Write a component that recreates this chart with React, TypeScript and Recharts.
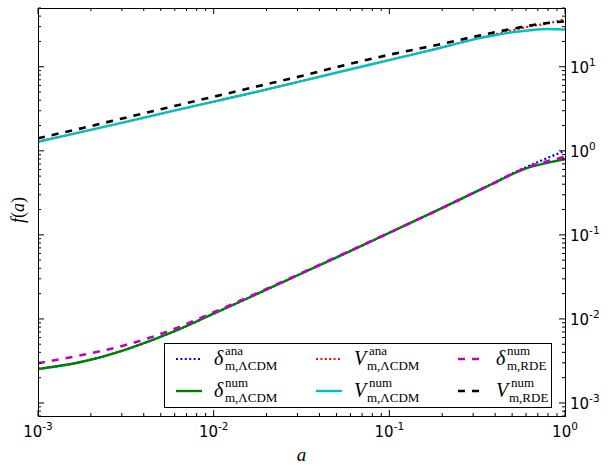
import React from 'react';
import { LineChart, Line, XAxis, YAxis } from 'recharts';

// scale factor a (log axis) and the six curves
const aValues = [0.001, 0.00178, 0.00316, 0.00562, 0.01, 0.0178, 0.0316, 0.0562, 0.1, 0.178, 0.316, 0.398, 0.501, 0.631, 0.794, 1.0];
const deltaAnaLCDM = [0.00254, 0.00309, 0.00432, 0.00676, 0.01156, 0.01995, 0.0347, 0.0603, 0.106, 0.186, 0.331, 0.422, 0.537, 0.668, 0.822, 1.0];
const deltaNumLCDM = [0.00254, 0.00309, 0.00432, 0.00676, 0.01156, 0.01995, 0.0347, 0.0603, 0.106, 0.186, 0.331, 0.417, 0.527, 0.638, 0.719, 0.794];
const vAnaLCDM = [1.28, 1.68, 2.21, 2.92, 3.85, 5.07, 6.76, 9.02, 12.0, 16.0, 21.6, 24.3, 27.2, 30.2, 32.7, 36.7];
const vNumLCDM = [1.28, 1.68, 2.21, 2.92, 3.85, 5.07, 6.76, 9.02, 12.0, 16.0, 21.6, 23.7, 25.7, 27.2, 28.1, 27.7];
const deltaNumRDE = [0.00297, 0.00372, 0.0049, 0.00724, 0.012, 0.0204, 0.0351, 0.061, 0.106, 0.186, 0.331, 0.417, 0.531, 0.653, 0.75, 0.851];
const vNumRDE = [1.41, 1.86, 2.48, 3.31, 4.4, 5.85, 7.76, 10.5, 13.9, 17.8, 23.2, 25.7, 28.3, 30.9, 33.1, 34.7];

const xMajorTicks = [0.001, 0.01, 0.1, 1];
const yMajorTicks = [0.001, 0.01, 0.1, 1, 10];
const xDomain = [0.001, 1];
const yDomain = [7e-4, 50];

const W = 610;
const H = 473;
const PLOT = { left: 38, top: 8, right: 565, bottom: 416 };
const AXIS_W = 30;
const AXIS_H = 30;

const data = aValues.map((a, i) => ({
  a,
  dAna: deltaAnaLCDM[i],
  dNum: deltaNumLCDM[i],
  vAna: vAnaLCDM[i],
  vNum: vNumLCDM[i],
  dRde: deltaNumRDE[i],
  vRde: vNumRDE[i],
}));

// majors plus 2..9 minors inside the domain
function logTicks(majors: number[], lo: number, hi: number) {
  const out: number[] = [];
  const first = majors[0] / 10;
  for (const d of [first, ...majors]) {
    for (let m = 1; m <= 9; m++) {
      const v = +(m * d).toPrecision(6);
      if (v >= lo * 0.9999 && v <= hi * 1.0001) out.push(v);
    }
  }
  return out;
}
const xTicks = logTicks(xMajorTicks, xDomain[0], xDomain[1]);
const yTicks = logTicks(yMajorTicks, yDomain[0], yDomain[1]);

const isMajor = (v: number) => {
  const l = Math.log10(v);
  return Math.abs(l - Math.round(l)) < 1e-6;
};

const tickFont = '"DejaVu Sans", sans-serif';
const mathFont = '"Liberation Serif", "DejaVu Serif", serif';

const XTick = (props: any) => {
  const { x, payload } = props;
  const v = payload.value;
  const major = isMajor(v);
  const len = major ? 6 : 3;
  return (
    <g>
      <line x1={x} x2={x} y1={PLOT.bottom} y2={PLOT.bottom - len} stroke="#000" strokeWidth={1} />
      <line x1={x} x2={x} y1={PLOT.top} y2={PLOT.top + len} stroke="#000" strokeWidth={1} />
      {major && (
        <text x={x} y={PLOT.bottom + 21} textAnchor="middle" fontFamily={tickFont} fontSize={15} fill="#000">
          10<tspan dy={-7} fontSize={10.5}>{String(Math.round(Math.log10(v)))}</tspan>
        </text>
      )}
    </g>
  );
};

const YTick = (props: any) => {
  const { y, payload } = props;
  const v = payload.value;
  const major = isMajor(v);
  const len = major ? 6 : 3;
  return (
    <g>
      <line x1={PLOT.left} x2={PLOT.left + len} y1={y} y2={y} stroke="#000" strokeWidth={1} />
      <line x1={PLOT.right} x2={PLOT.right - len} y1={y} y2={y} stroke="#000" strokeWidth={1} />
      {major && (
        <text x={PLOT.right + 5} y={y + 6} textAnchor="start" fontFamily={tickFont} fontSize={15} fill="#000">
          10<tspan dy={-7} fontSize={10.5}>{String(Math.round(Math.log10(v)))}</tspan>
        </text>
      )}
    </g>
  );
};

type Item = {
  stroke: string;
  dash?: string;
  width: number;
  sym: string;
  sup: string;
  sub: string;
};

const legendItems: Item[][] = [
  [
    { stroke: '#0000ff', dash: '2 2.4', width: 2.2, sym: 'δ', sup: 'ana', sub: 'm,ΛCDM' },
    { stroke: '#008000', width: 2.4, sym: 'δ', sup: 'num', sub: 'm,ΛCDM' },
  ],
  [
    { stroke: '#ff0000', dash: '2 2.4', width: 2.2, sym: 'V', sup: 'ana', sub: 'm,ΛCDM' },
    { stroke: '#00bfbf', width: 2.4, sym: 'V', sup: 'num', sub: 'm,ΛCDM' },
  ],
  [
    { stroke: '#bf00bf', dash: '7 7', width: 2.6, sym: 'δ', sup: 'num', sub: 'm,RDE' },
    { stroke: '#000000', dash: '7 7', width: 2.6, sym: 'V', sup: 'num', sub: 'm,RDE' },
  ],
];

const LEG = { left: 164, top: 343, width: 388, height: 65 };
const colX = [175, 315, 457];
const rowY = [358, 390];

function LegendEntry({ item, x, y }: { item: Item; x: number; y: number }) {
  const lx = x + 38;
  const isV = item.sym === 'V';
  const supX = isV ? 15 : 11;
  const subX = isV ? 13 : 11;
  return (
    <>
      <svg
        style={{ position: 'absolute', left: x - LEG.left, top: y - 5 - LEG.top }}
        width={26}
        height={10}
      >
        <line x1={0} x2={26} y1={5} y2={5} stroke={item.stroke} strokeWidth={item.width} strokeDasharray={item.dash} />
      </svg>
      <span
        style={{
          position: 'absolute',
          left: lx - LEG.left,
          top: y - 13 - LEG.top,
          fontFamily: mathFont,
          fontStyle: 'italic',
          fontSize: 20,
          lineHeight: '24px',
        }}
      >
        {item.sym}
      </span>
      <span
        style={{
          position: 'absolute',
          left: lx + supX - LEG.left,
          top: y - 15 - LEG.top,
          fontFamily: mathFont,
          fontSize: 13,
          lineHeight: '13px',
        }}
      >
        {item.sup}
      </span>
      <span
        style={{
          position: 'absolute',
          left: lx + subX - LEG.left,
          top: y - LEG.top,
          fontFamily: mathFont,
          fontSize: 13,
          lineHeight: '13px',
        }}
      >
        {item.sub}
      </span>
    </>
  );
}

export default function App() {
  return (
    <div style={{ position: 'absolute', left: 0, top: 0, width: W, height: H, background: '#fff' }}>
      <LineChart
        width={W}
        height={H}
        data={data}
        margin={{
          left: PLOT.left - AXIS_W,
          top: PLOT.top,
          right: W - PLOT.right,
          bottom: H - PLOT.bottom - AXIS_H,
        }}
      >
        <XAxis
          dataKey="a"
          type="number"
          scale="log"
          domain={xDomain}
          allowDataOverflow
          ticks={xTicks}
          interval={0}
          tick={XTick}
          tickLine={false}
          axisLine={false}
          height={AXIS_H}
        />
        <YAxis
          type="number"
          scale="log"
          domain={yDomain}
          allowDataOverflow
          ticks={yTicks}
          interval={0}
          tick={YTick}
          tickLine={false}
          axisLine={false}
          width={AXIS_W}
        />
        <Line dataKey="dAna" type="monotone" stroke="#0000ff" strokeWidth={2.2} strokeDasharray="2 2.4" dot={false} isAnimationActive={false} />
        <Line dataKey="dNum" type="monotone" stroke="#008000" strokeWidth={2.4} dot={false} isAnimationActive={false} />
        <Line dataKey="vAna" type="monotone" stroke="#ff0000" strokeWidth={2.2} strokeDasharray="2 2.4" dot={false} isAnimationActive={false} />
        <Line dataKey="vNum" type="monotone" stroke="#00bfbf" strokeWidth={2.4} dot={false} isAnimationActive={false} />
        <Line dataKey="dRde" type="monotone" stroke="#bf00bf" strokeWidth={2.6} strokeDasharray="7 7" dot={false} isAnimationActive={false} />
        <Line dataKey="vRde" type="monotone" stroke="#000000" strokeWidth={2.6} strokeDasharray="7 7" dot={false} isAnimationActive={false} />
      </LineChart>

      {/* frame */}
      <div
        style={{
          position: 'absolute',
          left: PLOT.left - 0.5,
          top: PLOT.top - 0.5,
          width: PLOT.right - PLOT.left + 1,
          height: PLOT.bottom - PLOT.top + 1,
          border: '1px solid #000',
          boxSizing: 'border-box',
          pointerEvents: 'none',
        }}
      />

      {/* legend */}
      <div
        style={{
          position: 'absolute',
          left: LEG.left,
          top: LEG.top,
          width: LEG.width,
          height: LEG.height,
          border: '1px solid #000',
          boxSizing: 'border-box',
          background: '#fff',
        }}
      >
        {legendItems.map((col, ci) =>
          col.map((item, ri) => <LegendEntry key={`${ci}-${ri}`} item={item} x={colX[ci]} y={rowY[ri]} />)
        )}
      </div>

      {/* axis titles */}
      <div
        style={{
          position: 'absolute',
          left: (PLOT.left + PLOT.right) / 2 - 20,
          width: 40,
          top: 444,
          textAlign: 'center',
          fontFamily: mathFont,
          fontStyle: 'italic',
          fontSize: 19,
          lineHeight: '22px',
        }}
      >
        a
      </div>
      <div
        style={{
          position: 'absolute',
          left: 18 - 30,
          top: 210 - 11,
          width: 60,
          textAlign: 'center',
          transform: 'rotate(-90deg)',
          fontFamily: mathFont,
          fontSize: 18,
          lineHeight: '22px',
        }}
      >
        <i>f</i>(<i>a</i>)
      </div>
    </div>
  );
}
